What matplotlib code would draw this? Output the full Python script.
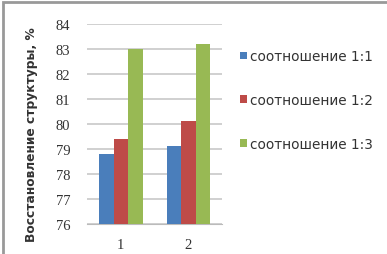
#!/usr/bin/env python3
import matplotlib
matplotlib.use('Agg')
import matplotlib.pyplot as plt
from matplotlib.patches import Rectangle
import numpy as np

categories = ['1', '2']
series_names = ['соотношение 1:1', 'соотношение 1:2', 'соотношение 1:3']
values_11 = [78.8, 79.1]
values_12 = [79.4, 80.1]
values_13 = [83.0, 83.2]
colors = ['#4a7ebb', '#be4b48', '#98b954']

fig = plt.figure(figsize=(3.87, 2.55), dpi=100)
ax = fig.add_axes([0.225, 0.118, 0.349, 0.784])

x = np.arange(len(categories))
w = 0.215
for i, (vals, name, c) in enumerate(zip([values_11, values_12, values_13], series_names, colors)):
    ax.bar(x + (i - 1) * w, [v - 76 for v in vals], w, bottom=76, color=c, label=name, zorder=3)

ax.set_xlim(-0.5, 1.5)
ax.set_ylim(76, 84)
ax.set_yticks(range(76, 85))
ax.set_xticks(x)
ax.set_xticklabels(categories)
ax.grid(axis='y', color='#c8c8c8', linewidth=1.2, zorder=0)
for s in ['top', 'right', 'left']:
    ax.spines[s].set_visible(False)
ax.spines['bottom'].set_color('#bbbbbb')
ax.tick_params(axis='y', length=0, labelsize=10.5, pad=12)
ax.tick_params(axis='x', length=0, labelsize=10.5, pad=10)
for lab in ax.get_yticklabels() + ax.get_xticklabels():
    lab.set_family('Liberation Serif')
    lab.set_color('#333333')

ax.set_ylabel('Восстановление структуры, %', fontsize=8.8, fontweight='bold',
              color='#333333')
ax.yaxis.set_label_coords(-0.36, 0.45)

leg = ax.legend(loc='upper left', bbox_to_anchor=(1.04, 0.935), frameon=False,
                fontsize=9.8, handlelength=0.5, handleheight=0.5,
                handletextpad=0.25, labelspacing=2.2)
for t in leg.get_texts():
    t.set_color('#333333')

fig.patches.append(Rectangle((0.008, -0.1), 1.2, 1.088, transform=fig.transFigure,
                             fill=False, edgecolor='#999999', linewidth=2))

fig.savefig('out.png', dpi=100)
